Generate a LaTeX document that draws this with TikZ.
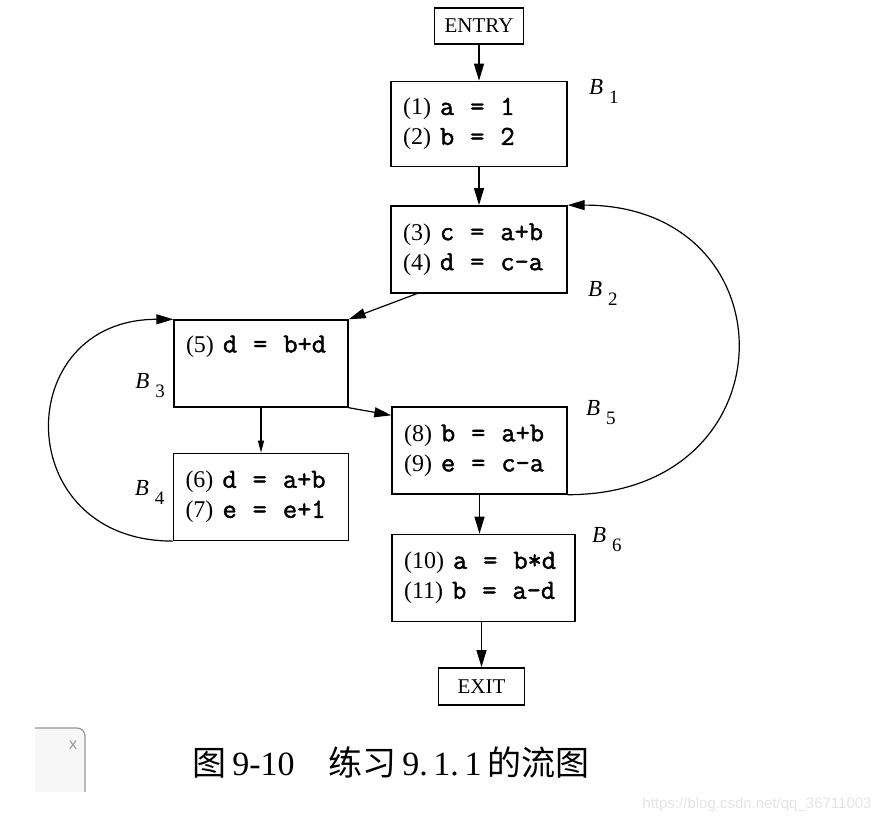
\documentclass[tikz,border=0pt]{standalone}
\usepackage{fontspec}
\setmainfont{Liberation Serif}
\setmonofont{Liberation Mono}
\newfontfamily\codefont[FakeBold=1.6]{Latin Modern Mono}
\newfontfamily\cjk{Noto Sans CJK SC}
\newfontfamily\wmfont{Liberation Sans}
\usepackage{tikz}
\usetikzlibrary{arrows.meta, positioning, calc}
\definecolor{wmgray}{RGB}{228,228,228}
\definecolor{tabgray}{RGB}{150,150,150}
\newcommand{\stm}[3]{(#1)\hspace{4.5pt}{\fontsize{13.8}{15}\codefont #2\ \ =\ \ #3}}
\newcommand{\blk}[1]{\textit{B}\hspace{3pt}\raisebox{-4.5pt}{\fontsize{9.5}{9}\selectfont #1}}

\begin{document}
\begin{tikzpicture}[
    x=0.5pt, y=-0.5pt,
    blockbox/.style={draw, line width=0.7pt, minimum height=43.5pt, text width=76pt,
                     inner xsep=6pt, align=left, font=\fontsize{12}{15}\selectfont},
    termbox/.style={draw, line width=0.7pt, minimum height=18pt, font=\fontsize{10.5}{12}\selectfont},
    lbl/.style={inner sep=0pt, font=\fontsize{11.5}{12}\selectfont},
    arr/.style={-{Triangle[length=8.5pt, width=5pt]}, line width=0.6pt},
  ]
  \useasboundingbox (0,0) rectangle (887,824);

  % blocks of the flow graph
  \node[termbox, minimum width=44.5pt] (entry) at (479,26) {ENTRY};
  \node[blockbox, minimum height=42.5pt, below=18pt of entry] (b1) {\stm{1}{a}{1}\\\stm{2}{b}{2}};
  \node[blockbox, below=19pt of b1] (b2) {\stm{3}{c}{a+b}\\\stm{4}{d}{c-a}};
  \node[blockbox, text width=75pt] (b3) at (261,363.5) {\stm{5}{d}{b+d}\\ \strut};
  \node[blockbox, text width=75.5pt, below=22.5pt of b3] (b4) {\stm{6}{d}{a+b}\\\stm{7}{e}{e+1}};
  \node[blockbox, text width=75.5pt] (b5) at (479.5,450.5) {\stm{8}{b}{a+b}\\\stm{9}{e}{c-a}};
  \node[blockbox, text width=79.5pt, below=19.5pt of b5.south west, anchor=north west] (b6)
       {\stm{10}{a}{b*d}\\\stm{11}{b}{a-d}};
  \node[termbox, minimum width=43pt, minimum height=18.5pt, below=22.5pt of b6, xshift=-1pt] (exit) {EXIT};

  \node[lbl, below right=-1pt and 10.5pt of b1.north east] (l1) {\blk{1}};
  \node[lbl, right=10pt of b2.south east] (l2) {\blk{2}};
  \node[lbl, left=4pt of b3.south west, yshift=11pt] (l3) {\blk{3}};
  \node[lbl, left=4pt of b4.west, yshift=2pt] (l4) {\blk{4}};
  \node[lbl, right=9pt of b5.north east, yshift=-3pt] (l5) {\blk{5}};
  \node[lbl, right=8pt of b6.north east, yshift=-3pt] (l6) {\blk{6}};

  % edges
  \draw[arr] (entry) -- (b1);
  \draw[arr] (b1) -- (b2);
  \draw[arr] ([xshift=13.5pt]b2.south west) -- (b3.north east);
  \draw[arr, -{Triangle[length=6pt, width=3pt]}] (b3) -- (b4);
  \draw[arr] (b3.south east) -- ([yshift=-4.5pt]b5.north west);
  \draw[arr] (b5) -- (b5 |- b6.north);
  \draw[arr] (exit |- b6.south) -- (exit);
  \draw[arr] (b5.south east) to[out=0, in=0, looseness=2] (b2.north east);
  \draw[arr] (b4.south west) to[out=180, in=180, looseness=1.88] (b3.north west);

  % caption
  \node[font=\fontsize{17}{19}\selectfont] (cap) at (391,762)
       {{\cjk 图}\,9-10\quad{\cjk 练习}\,9.\,1.\,1\,{\cjk 的流图}};

  % window tab and watermark
  \fill[gray!6] (35,728) rectangle (85,792);
  \draw[tabgray, line width=0.6pt, rounded corners=4pt] (35,728) -- (85,728) -- (85,792);
  \node[tabgray, font=\wmfont\fontsize{8}{9}\selectfont] (tabx) at (73,745) {x};
  \node[wmgray, font=\wmfont\fontsize{7.5}{9}\selectfont] (wm) at (757,805) {https://blog.csdn.net/qq\_36711003};
\end{tikzpicture}
\end{document}
